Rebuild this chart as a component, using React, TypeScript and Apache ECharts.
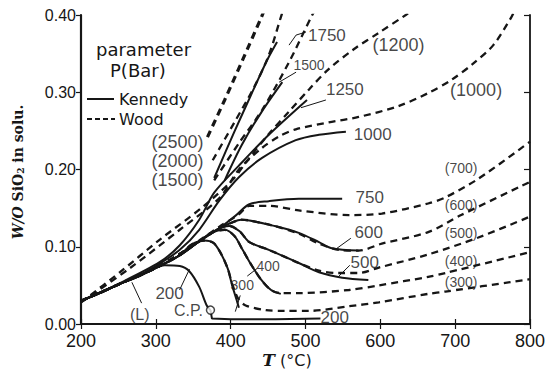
import React, { useEffect, useRef } from "react";
import * as echarts from "echarts";

// ---- axis ticks ----
const xTickValues = [200, 300, 400, 500, 600, 700, 800];
const yTickValues = [0, 0.1, 0.2, 0.3, 0.4];

// ---- Kennedy (solid) isobars, [T °C, W/O SiO2] ----
const k200 = [[200,0.030],[225,0.040],[252,0.052],[278,0.062],[292,0.069],[312,0.076],[332,0.075],[345,0.068],[358,0.048],[368,0.024],[373,0.018]];
const k200Low = [[373,0.018],[375,0.007],[400,0.006],[460,0.006],[520,0.007]];
const k300 = [[200,0.030],[225,0.040],[252,0.052],[278,0.062],[305,0.075],[332,0.089],[348,0.103],[365,0.108],[377,0.105],[386,0.093],[396,0.072],[402,0.050],[408,0.031],[411,0.021]];
const k400 = [[200,0.030],[225,0.040],[252,0.052],[278,0.062],[305,0.075],[332,0.089],[358,0.107],[374,0.118],[392,0.122],[405,0.114],[416,0.096],[428,0.076],[441,0.057],[454,0.044],[467,0.039]];
const k500 = [[200,0.030],[252,0.052],[305,0.075],[332,0.089],[358,0.107],[385,0.124],[398,0.127],[412,0.120],[425,0.106],[451,0.096],[491,0.079],[518,0.067],[549,0.060],[584,0.057]];
const k600 = [[200,0.030],[252,0.052],[305,0.075],[332,0.089],[358,0.107],[385,0.124],[401,0.131],[414,0.135],[425,0.134],[458,0.127],[491,0.118],[518,0.106],[535,0.098],[571,0.095]];
const k750 = [[200,0.030],[252,0.052],[305,0.075],[332,0.089],[358,0.107],[385,0.124],[405,0.139],[425,0.155],[451,0.159],[491,0.162],[549,0.162]];
const k1000 = [[200,0.030],[225,0.040],[252,0.052],[278,0.063],[305,0.078],[332,0.096],[358,0.122],[385,0.160],[411,0.190],[442,0.215],[487,0.238],[518,0.245],[554,0.249]];
const k1250 = [[200,0.030],[252,0.053],[305,0.080],[332,0.102],[358,0.135],[378,0.170],[411,0.205],[451,0.245],[502,0.290]];
const k1500 = [[392,0.186],[415,0.232],[441,0.274],[469,0.313]];
const k1750 = [[378,0.189],[405,0.249],[427,0.296],[449,0.342],[462,0.365]];

// ---- Wood (dashed) isobars ----
const w300 = [[200,0.030],[252,0.052],[305,0.075],[332,0.089],[348,0.103],[365,0.108],[377,0.105],[386,0.093],[396,0.072],[402,0.052],[410,0.033],[420,0.024],[447,0.018],[471,0.017],[505,0.017],[558,0.023],[598,0.028],[664,0.039],[687,0.042],[800,0.058]];
const w400 = [[200,0.030],[252,0.052],[305,0.075],[358,0.107],[374,0.118],[392,0.122],[405,0.114],[416,0.096],[428,0.076],[441,0.057],[454,0.044],[467,0.040],[491,0.040],[558,0.044],[598,0.050],[664,0.061],[687,0.066],[800,0.093]];
const w500 = [[200,0.030],[252,0.052],[305,0.075],[358,0.107],[385,0.124],[398,0.127],[412,0.120],[425,0.106],[451,0.096],[491,0.079],[518,0.069],[545,0.066],[571,0.066],[598,0.073],[664,0.090],[731,0.112],[800,0.139]];
const w600 = [[200,0.030],[252,0.052],[305,0.075],[358,0.107],[385,0.124],[401,0.131],[414,0.135],[425,0.134],[458,0.127],[491,0.117],[518,0.104],[545,0.096],[571,0.095],[602,0.104],[664,0.119],[708,0.141],[800,0.184]];
const w700 = [[200,0.030],[252,0.052],[305,0.076],[332,0.091],[358,0.108],[385,0.126],[411,0.142],[425,0.153],[451,0.153],[491,0.147],[558,0.141],[602,0.143],[664,0.156],[687,0.164],[731,0.188],[800,0.236]];
const w1000 = [[200,0.028],[265,0.072],[332,0.122],[385,0.163],[411,0.200],[442,0.228],[465,0.243],[487,0.252],[531,0.261],[571,0.268],[624,0.282],[664,0.299],[695,0.316],[724,0.337],[751,0.361],[775,0.397],[779,0.405]];
const w1200 = [[200,0.028],[252,0.067],[305,0.109],[362,0.151],[402,0.186],[425,0.215],[451,0.246],[478,0.275],[505,0.304],[531,0.330],[565,0.356],[598,0.377],[634,0.400],[641,0.405]];
const w1500 = [[378,0.186],[411,0.234],[442,0.277],[478,0.339],[509,0.400],[513,0.406]];
const w2000 = [[376,0.212],[405,0.261],[431,0.306],[451,0.348],[467,0.397],[470,0.406]];
const w2500 = [[369,0.242],[392,0.290],[416,0.342],[441,0.397],[444,0.404]];

// ---- critical point ----
const criticalPoint = [[373, 0.018]];

// ---- curve labels (text, T, W at label centre) ----
const kennedyLabels = [
  ["1750", 528.6, 0.374], ["1500", 504.7, 0.335], ["1250", 552.6, 0.303], ["1000", 589.8, 0.245],
  ["750", 585.8, 0.164], ["600", 584.5, 0.118], ["500", 579.2, 0.080], ["400", 450.0, 0.075],
  ["300", 415.5, 0.050], ["200", 318.4, 0.039], ["200", 539.0, 0.009],
];
const woodLabels = [
  ["(2500)", 329, 0.236], ["(2000)", 329, 0.211], ["(1500)", 329, 0.186],
  ["(1200)", 624.4, 0.361], ["(1000)", 728, 0.303],
  ["(700)", 708, 0.202], ["(600)", 708, 0.154], ["(500)", 708, 0.118], ["(400)", 708, 0.082], ["(300)", 708, 0.054],
];
const noteLabels = [["C.P.", 343.7, 0.018], ["(L)", 278.5, 0.012]];

// ---- leader lines ----
const leaders = [
  [[331.7, 0.044], [345, 0.071]],
  [[281, 0.027], [268, 0.054]],
  [[412.8, 0.037], [406.2, 0.016]],
  [[435.5, 0.072], [422.2, 0.062]],
  [[559.2, 0.076], [544.6, 0.062]],
  [[560.6, 0.111], [540.6, 0.097]],
  [[527.3, 0.290], [494, 0.280]],
  [[487.4, 0.326], [464.7, 0.313]],
  [[500.7, 0.378], [487.4, 0.374], [478, 0.361]],
];

const INK = "#161616";
const NUM_FONT = "'Liberation Sans', Arial, sans-serif";
const smallLabelSet = new Set(["1500", "400", "300"]);

function solid(data: number[][], width = 2) {
  return {
    type: "line", data, smooth: 0.3, showSymbol: false, symbol: "none", silent: true,
    lineStyle: { color: INK, width }, z: 3,
  };
}
function dashed(data: number[][], width = 2.3) {
  return {
    type: "line", data, smooth: 0.3, showSymbol: false, symbol: "none", silent: true,
    lineStyle: { color: INK, width, type: [7, 5] }, z: 3,
  };
}
function labelSeries(list: any[], sizeFor: (t: string) => number) {
  return {
    type: "scatter", silent: true, symbolSize: 1, itemStyle: { color: "rgba(0,0,0,0)" }, z: 6,
    data: list.map(([t, x, y]) => ({
      name: t, value: [x, y],
      label: { show: true, position: "inside", formatter: t, fontSize: sizeFor(t), color: INK, fontFamily: NUM_FONT },
    })),
  };
}

export default function App() {
  const ref = useRef<HTMLDivElement>(null);
  useEffect(() => {
    if (!ref.current) return;
    const chart = echarts.init(ref.current, null, { renderer: "svg" });
    const grid = { left: 81, right: 16, top: 15, bottom: 60 };
    const series: any[] = [
      solid(k200), { ...solid(k200Low), smooth: false }, solid(k300), solid(k400), solid(k500), solid(k600),
      solid(k750), solid(k1000), solid(k1250), solid(k1500), solid(k1750),
      dashed(w300), dashed(w400), dashed(w500), dashed(w600), dashed(w700), dashed(w1000),
      dashed(w1200), dashed(w1500), dashed(w2000), dashed(w2500, 3.2),
      ...leaders.map((l) => ({ ...solid(l as number[][], 1), smooth: false })),
      labelSeries(kennedyLabels, (t) => (smallLabelSet.has(t) ? 14 : 17)),
      labelSeries(woodLabels, (t) => (t.length >= 6 ? 18 : 14)),
      labelSeries(noteLabels, () => 16),
      {
        type: "scatter", data: criticalPoint, symbol: "circle", symbolSize: 8, silent: true, z: 8,
        itemStyle: { color: "#fff", borderColor: INK, borderWidth: 1.5 },
      },
    ];
    chart.setOption({
      animation: false,
      backgroundColor: "#fff",
      grid,
      xAxis: [
        {
          type: "value", min: 200, max: 800, interval: 100,
          axisLine: { show: true, lineStyle: { color: INK, width: 2.2 } },
          axisTick: { show: true, inside: true, length: 5, lineStyle: { color: INK, width: 1.2 } },
          axisLabel: { fontSize: 18, color: INK, margin: 8, fontFamily: NUM_FONT, customValues: xTickValues },
          splitLine: { show: false },
        },
        {
          type: "value", position: "top", min: 200, max: 800, interval: 100,
          axisLine: { show: true, lineStyle: { color: INK, width: 1.8 } },
          axisTick: { show: true, inside: true, length: 5, lineStyle: { color: INK, width: 1.2 } },
          axisLabel: { show: false }, splitLine: { show: false },
        },
      ],
      yAxis: [
        {
          type: "value", min: 0, max: 0.4, interval: 0.1,
          axisLine: { show: true, lineStyle: { color: INK, width: 2.2 } },
          axisTick: { show: true, inside: false, length: 5, lineStyle: { color: INK, width: 1.2 } },
          axisLabel: { fontSize: 16, color: INK, margin: 5, fontFamily: NUM_FONT, formatter: (v: number) => v.toFixed(2), customValues: yTickValues },
          splitLine: { show: false },
        },
        {
          type: "value", position: "right", min: 0, max: 0.4, interval: 0.1,
          axisLine: { show: true, lineStyle: { color: INK, width: 1.8 } },
          axisTick: { show: true, inside: true, length: 6, lineStyle: { color: INK, width: 1.2 } },
          axisLabel: { show: false }, splitLine: { show: false },
        },
      ],
      series,
      graphic: [
        {
          type: "text", x: 18, y: 172, rotation: Math.PI / 2, z: 10,
          style: {
            text: "{i|W/O} SiO{s|2} in solu.", align: "center", verticalAlign: "middle",
            font: "bold 14px 'DejaVu Serif', serif", fill: INK,
            rich: {
              i: { font: "italic bold 14px 'DejaVu Serif', serif", fill: INK },
              s: { font: "bold 9px 'DejaVu Serif', serif", fill: INK, verticalAlign: "bottom", padding: [6, 0, 0, 0] },
            },
          },
        },
        {
          type: "text", x: 287, y: 360, z: 10,
          style: {
            text: "{i|T} (°C)", align: "center", verticalAlign: "middle",
            font: "16px 'DejaVu Sans', sans-serif", fill: INK,
            rich: { i: { font: "italic bold 17px 'DejaVu Serif', serif", fill: INK } },
          },
        },
        { type: "text", x: 96, y: 49, z: 10, style: { text: "parameter", font: "18px 'DejaVu Sans', sans-serif", fill: INK, verticalAlign: "middle" } },
        { type: "text", x: 110, y: 70, z: 10, style: { text: "P(Bar)", font: "18px 'DejaVu Sans', sans-serif", fill: INK, verticalAlign: "middle" } },
        { type: "line", z: 10, shape: { x1: 87, y1: 99, x2: 114, y2: 99 }, style: { stroke: INK, lineWidth: 2 } },
        { type: "text", x: 119, y: 99, z: 10, style: { text: "Kennedy", font: "16px 'DejaVu Sans', sans-serif", fill: INK, verticalAlign: "middle" } },
        { type: "line", z: 10, shape: { x1: 87, y1: 119, x2: 115, y2: 119 }, style: { stroke: INK, lineWidth: 2, lineDash: [5, 3] } },
        { type: "text", x: 119, y: 119, z: 10, style: { text: "Wood", font: "16px 'DejaVu Sans', sans-serif", fill: INK, verticalAlign: "middle" } },
      ],
    });
    return () => chart.dispose();
  }, []);
  return <div ref={ref} style={{ position: "fixed", left: 0, top: 0, width: 548, height: 384, background: "#fff" }} />;
}
